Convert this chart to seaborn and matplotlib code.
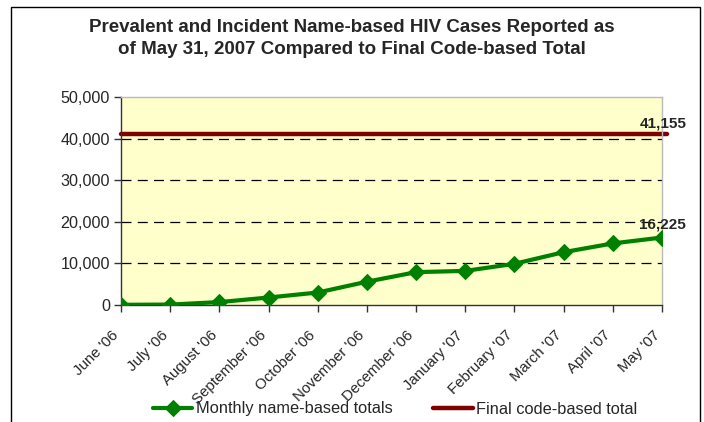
import numpy as np
import pandas as pd
import matplotlib
matplotlib.use('Agg')
import matplotlib.pyplot as plt
import matplotlib.transforms as mtransforms
import seaborn as sns
from matplotlib.patches import Rectangle

# podaci ocitani sa slike
months = ["June '06", "July '06", "August '06", "September '06", "October '06",
          "November '06", "December '06", "January '07", "February '07",
          "March '07", "April '07", "May '07"]
name_based = [50, 100, 700, 1800, 3000, 5600, 7900, 8200, 9900, 12700, 14800, 16225]
code_based_total = 41155

df = pd.DataFrame({'month': months, 'cases': name_based})

sns.set_style('white')
plt.rcParams['font.family'] = ['Liberation Sans', 'DejaVu Sans']

fig = plt.figure(figsize=(7.04, 4.22), dpi=100)
ax = fig.add_axes([121/704, 1-305/422, (662-121)/704, (305-97)/422])
ax.set_facecolor('#FFFFCC')

green = '#008000'
red = '#800000'

for v in [10000, 20000, 30000, 40000]:
    ax.axhline(v, color='black', lw=0.9, ls=(0, (8, 5)), zorder=1)

ax.axhline(code_based_total, xmin=0, xmax=1.01, color=red, lw=3.2, zorder=2,
           clip_on=False, label='Final code-based total')
sns.lineplot(data=df, x='month', y='cases', ax=ax, color=green, lw=3,
             marker='D', markersize=8, markeredgecolor=green,
             label='Monthly name-based totals', zorder=3, sort=False)

h, l = ax.get_legend_handles_labels()
ax.get_legend().remove()

ax.set_xlim(0, len(months) - 1)
ax.set_ylim(0, 50000)
ax.set_yticks(range(0, 50001, 10000))
ax.set_yticklabels([f'{v:,}' for v in range(0, 50001, 10000)], fontsize=11.6)
ax.set_xticks(range(len(months)))
ax.set_xticklabels([])
# natpisi mjeseci, zakrenuti 45 stupnjeva
shift = mtransforms.ScaledTranslation(-5.5/100, -27/100, fig.dpi_scale_trans)
for i, m in enumerate(months):
    ax.text(i, 0, m, transform=ax.get_xaxis_transform() + shift,
            rotation=45, ha='right', va='center_baseline', rotation_mode='anchor',
            fontsize=10.8)
ax.set_xlabel('')
ax.set_ylabel('')
ax.tick_params(axis='both', which='both', direction='out', length=5, width=1,
               color='#333333', pad=3, left=True, bottom=True)

for s in ['left', 'bottom']:
    ax.spines[s].set_color('#333333')
    ax.spines[s].set_linewidth(1)
for s in ['top', 'right']:
    ax.spines[s].set_color('#BBBBBB')
    ax.spines[s].set_linewidth(1)

ax.text(len(months) - 1 + 0.5, code_based_total + 900, f'{code_based_total:,}',
        ha='right', va='bottom', fontsize=11, fontweight='bold')
ax.text(len(months) - 1, name_based[-1] + 1500, f'{name_based[-1]:,}',
        ha='center', va='bottom', fontsize=11, fontweight='bold')

fig.text(352/704, 1-28/422, 'Prevalent and Incident Name-based HIV Cases Reported as',
         ha='center', va='center', fontsize=13.5, fontweight='bold')
fig.text(352/704, 1-49/422, 'of May 31, 2007 Compared to Final Code-based Total',
         ha='center', va='center', fontsize=13.5, fontweight='bold')

order = [l.index('Monthly name-based totals'), l.index('Final code-based total')]
leg = fig.legend([h[i] for i in order], [l[i] for i in order], loc='center',
                 bbox_to_anchor=(395/704, 1-409/422), ncol=2, frameon=False,
                 fontsize=11.8, handlelength=2.4, columnspacing=2.5, handletextpad=0.2,
                 borderpad=0, borderaxespad=0)

fig.patches.append(Rectangle((11/704, -0.1), (700-11)/704, 1.1-7/422,
                             transform=fig.transFigure, fill=False,
                             edgecolor='black', lw=1))

fig.savefig('out.png', dpi=100)
